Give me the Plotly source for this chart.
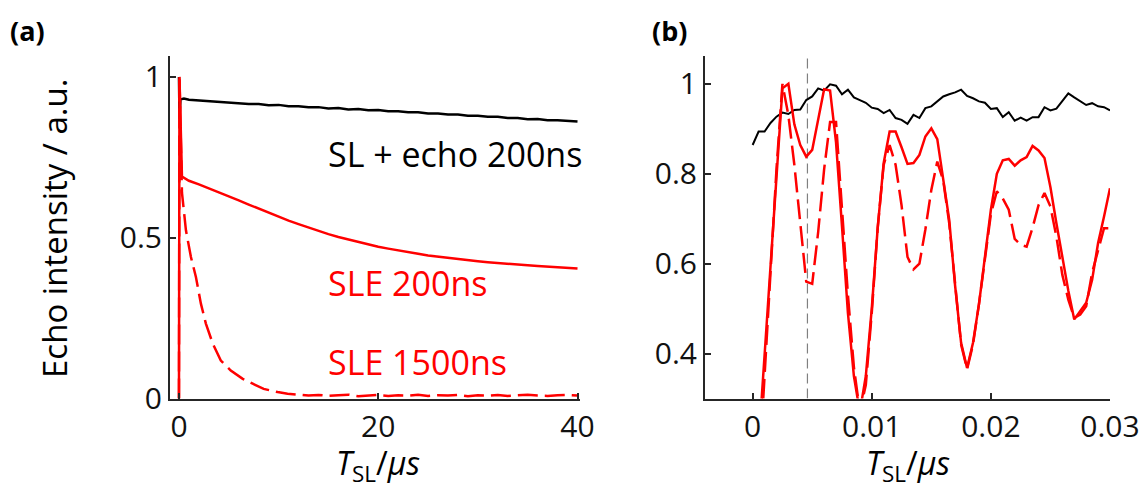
import plotly.graph_objects as go

# ---------------- Panel (a) data ----------------
t_a = [0, 0.05, 0.15, 0.5] + list(range(1, 41))
sl_echo_200 = [1.0, 0.87, 0.93, 0.933,
               0.929, 0.927, 0.923, 0.923, 0.920, 0.919, 0.916, 0.916, 0.912, 0.913,
               0.909, 0.909, 0.906, 0.906, 0.902, 0.903, 0.899, 0.900, 0.896, 0.897,
               0.893, 0.893, 0.890, 0.890, 0.886, 0.886, 0.883, 0.883, 0.879, 0.879,
               0.876, 0.876, 0.872, 0.872, 0.868, 0.869, 0.865, 0.865, 0.862, 0.861]
t_a_sle200 = [0, 0.05, 0.3] + list(range(1, 41))
sle_200 = [0.0, 1.0, 0.69,
           0.677, 0.666, 0.654, 0.642, 0.629, 0.616, 0.603, 0.590, 0.577, 0.565,
           0.553, 0.542, 0.531, 0.521, 0.511, 0.502, 0.494, 0.486, 0.479, 0.472,
           0.466, 0.460, 0.455, 0.450, 0.445, 0.441, 0.437, 0.433, 0.430, 0.427,
           0.424, 0.421, 0.419, 0.416, 0.414, 0.412, 0.410, 0.408, 0.406, 0.404]
t_a_sle1500 = [0, 0.05, 0.3, 0.7, 1.2, 1.7, 2.2, 2.7, 3.4, 4.2, 5.2, 6.4, 7.4, 8.5,
               9.9, 10.9] + list(range(12, 41))
sle_1500 = [0.0, 1.0, 0.64, 0.523, 0.44, 0.378, 0.295, 0.233, 0.17, 0.118, 0.087,
            0.061, 0.046, 0.030, 0.020, 0.015,
            0.012, 0.009, 0.011, 0.008, 0.010, 0.012, 0.007, 0.009, 0.011, 0.008,
            0.010, 0.009, 0.012, 0.008, 0.010, 0.009, 0.011, 0.007, 0.010, 0.009,
            0.011, 0.008, 0.010, 0.012, 0.009, 0.008, 0.010, 0.011, 0.009]

# ---------------- Panel (b) data ----------------
t_b = [round(i * 0.0005, 4) for i in range(61)]
b_sl_echo = [0.864, 0.894, 0.894, 0.913, 0.927, 0.936, 0.933, 0.942, 0.943, 0.964,
             0.972, 0.990, 0.985, 0.999, 0.996, 0.977, 0.987, 0.970, 0.964, 0.958,
             0.947, 0.944, 0.935, 0.942, 0.924, 0.920, 0.911, 0.931, 0.924, 0.946,
             0.950, 0.961, 0.972, 0.977, 0.981, 0.987, 0.973, 0.968, 0.961, 0.958,
             0.944, 0.946, 0.926, 0.937, 0.918, 0.925, 0.918, 0.926, 0.926, 0.948,
             0.941, 0.945, 0.961, 0.979, 0.970, 0.961, 0.953, 0.957, 0.950, 0.948,
             0.941]
b_sle_200 = [0.00, 0.20, 0.40, 0.60, 0.80, 0.99, 1.00, 0.91, 0.864, 0.838,
             0.853, 0.92, 0.988, 0.985, 0.87, 0.683, 0.49, 0.35, 0.27, 0.35,
             0.50, 0.68, 0.824, 0.894, 0.894, 0.859, 0.822, 0.824, 0.842, 0.883,
             0.901, 0.877, 0.787, 0.698, 0.55, 0.424, 0.368, 0.424, 0.51, 0.612,
             0.72, 0.80, 0.83, 0.833, 0.818, 0.83, 0.837, 0.862, 0.852, 0.835,
             0.77, 0.69, 0.613, 0.54, 0.476, 0.494, 0.513, 0.564, 0.646, 0.705,
             0.768]
b_sle_1500 = [0.00, 0.12, 0.35, 0.58, 0.81, 1.00, 0.93, 0.82, 0.69, 0.56,
              0.555, 0.67, 0.81, 0.915, 0.915, 0.73, 0.53, 0.37, 0.27, 0.33,
              0.49, 0.68, 0.82, 0.864, 0.82, 0.73, 0.615, 0.587, 0.60, 0.676,
              0.764, 0.827, 0.785, 0.69, 0.55, 0.42, 0.365, 0.42, 0.51, 0.61,
              0.71, 0.761, 0.745, 0.72, 0.655, 0.642, 0.638, 0.68, 0.73, 0.757,
              0.727, 0.66, 0.575, 0.52, 0.479, 0.487, 0.505, 0.58, 0.63, 0.679,
              0.679]
b_marker_t = 0.0046

# tick labels
a_xticks = [0, 20, 40]
a_yticks = [0, 0.5, 1]
a_ytext = ["0", "0.5", "1"]
b_xticks = [0, 0.01, 0.02, 0.03]
b_xtext = ["0", "0.01", "0.02", "0.03"]
b_yticks = [0.4, 0.6, 0.8, 1.0]
b_ytext = ["0.4", "0.6", "0.8", "1"]

FONT = "Open Sans"
AX = "#262626"
RED = "#ff0000"
DASH = "20px,7px"

fig = go.Figure()
# panel (a)
fig.add_trace(go.Scatter(x=t_a, y=sl_echo_200, mode="lines",
                         line=dict(color="black", width=2.5), xaxis="x", yaxis="y"))
fig.add_trace(go.Scatter(x=t_a_sle200, y=sle_200, mode="lines",
                         line=dict(color=RED, width=2.5), xaxis="x", yaxis="y"))
fig.add_trace(go.Scatter(x=t_a_sle1500, y=sle_1500, mode="lines",
                         line=dict(color=RED, width=2.5, dash=DASH), xaxis="x", yaxis="y"))
# panel (b)
fig.add_trace(go.Scatter(x=[b_marker_t, b_marker_t], y=[0.3, 1.062], mode="lines",
                         line=dict(color="#808080", width=1.2, dash="10px,5px"),
                         xaxis="x2", yaxis="y2"))
fig.add_trace(go.Scatter(x=t_b, y=b_sl_echo, mode="lines",
                         line=dict(color="black", width=2), xaxis="x2", yaxis="y2"))
fig.add_trace(go.Scatter(x=t_b, y=b_sle_200, mode="lines",
                         line=dict(color=RED, width=2.5), xaxis="x2", yaxis="y2"))
fig.add_trace(go.Scatter(x=t_b, y=b_sle_1500, mode="lines",
                         line=dict(color=RED, width=2.5, dash=DASH), xaxis="x2", yaxis="y2"))

axis_common = dict(showline=True, linecolor=AX, linewidth=2, ticks="inside",
                   ticklen=6, tickwidth=1.5, tickcolor=AX, showgrid=False,
                   zeroline=False, automargin=False,
                   tickfont=dict(family=FONT, size=30, color="#111111"))

ydom = [1 - 398.5 / 488, 1 - 56 / 488]
fig.update_layout(
    template="none",
    width=1146, height=488, margin=dict(l=0, r=0, t=0, b=0, pad=0),
    paper_bgcolor="white", plot_bgcolor="white", showlegend=False,
    xaxis=dict(domain=[170 / 1146, 580 / 1146], range=[-0.9, 40.25],
               tickvals=a_xticks, anchor="y", **axis_common),
    yaxis=dict(domain=ydom, range=[0, 1.065], tickvals=a_yticks, ticktext=a_ytext,
               anchor="x", **axis_common),
    xaxis2=dict(domain=[705 / 1146, 1110 / 1146], range=[-0.004, 0.03],
                tickvals=b_xticks, ticktext=b_xtext, anchor="y2", **axis_common),
    yaxis2=dict(domain=ydom, range=[0.3, 1.062], tickvals=b_yticks, ticktext=b_ytext,
                anchor="x2", **axis_common),
)

ann_font = dict(family=FONT, size=34)
xlabel = "<i>T</i><sub>SL</sub>/<i>μs</i>"
annotations = [
    dict(text="<b>(a)</b>", x=8 / 1146, y=1 - 30 / 488, xref="paper", yref="paper",
         xanchor="left", yanchor="middle", showarrow=False,
         font=dict(family=FONT, size=27, color="black")),
    dict(text="<b>(b)</b>", x=650 / 1146, y=1 - 30 / 488, xref="paper", yref="paper",
         xanchor="left", yanchor="middle", showarrow=False,
         font=dict(family=FONT, size=27, color="black")),
    dict(text="Echo intensity / a.u.", x=55 / 1146, y=1 - 229 / 488, xref="paper",
         yref="paper", textangle=-90, xanchor="center", yanchor="middle",
         showarrow=False, font=dict(family=FONT, size=33, color="black")),
    dict(text=xlabel, x=378 / 1146, y=1 - 465 / 488, xref="paper", yref="paper",
         xanchor="center", yanchor="middle", showarrow=False, borderpad=0,
         font=dict(family=FONT, size=32, color="black")),
    dict(text=xlabel, x=907.5 / 1146, y=1 - 465 / 488, xref="paper", yref="paper",
         xanchor="center", yanchor="middle", showarrow=False, borderpad=0,
         font=dict(family=FONT, size=32, color="black")),
    dict(text="SL + echo 200ns", x=14.8, y=0.76, xref="x", yref="y",
         xanchor="left", yanchor="middle", showarrow=False,
         font=dict(ann_font, color="black")),
    dict(text="SLE 200ns", x=14.8, y=0.36, xref="x", yref="y",
         xanchor="left", yanchor="middle", showarrow=False,
         font=dict(ann_font, color=RED)),
    dict(text="SLE 1500ns", x=14.8, y=0.115, xref="x", yref="y",
         xanchor="left", yanchor="middle", showarrow=False,
         font=dict(ann_font, color=RED)),
]
fig.update_layout(annotations=annotations)

fig.write_html("out.html")
